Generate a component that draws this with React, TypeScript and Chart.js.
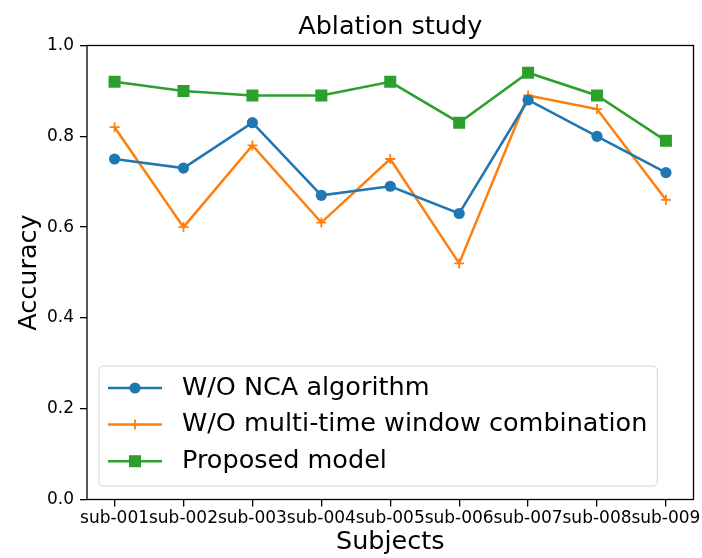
import React, { useEffect, useRef } from "react";
import { Chart, registerables } from "chart.js";

Chart.register(...registerables);

const SUBJECTS = ["sub-001", "sub-002", "sub-003", "sub-004", "sub-005", "sub-006", "sub-007", "sub-008", "sub-009"];
const NCA = [0.75, 0.73, 0.83, 0.67, 0.69, 0.63, 0.88, 0.8, 0.72];
const MULTI = [0.82, 0.6, 0.78, 0.61, 0.75, 0.52, 0.89, 0.86, 0.66];
const PROPOSED = [0.92, 0.9, 0.89, 0.89, 0.92, 0.83, 0.94, 0.89, 0.79];
const SERIES_LABELS = ["W/O NCA algorithm", "W/O multi-time window combination", "Proposed model"];
const COLORS = ["#1f77b4", "#ff7f0e", "#2ca02c"];
const MARKERS = ["circle", "cross", "rect"];
const Y_TICKS = [0, 0.2, 0.4, 0.6, 0.8, 1.0];
const TITLE = "Ablation study";

const FONT = "'DejaVu Sans', sans-serif";

const framePlugin = {
  id: "frameAndLegend",
  afterDatasetsDraw(chart: any) {
    const ctx = chart.ctx;
    const ca = chart.chartArea;
    ctx.save();
    // frame
    ctx.strokeStyle = "#000";
    ctx.lineWidth = 1.3;
    ctx.strokeRect(ca.left, ca.top, ca.right - ca.left, ca.bottom - ca.top);

    // title centred over the plot area
    ctx.font = `25.5px ${FONT}`;
    ctx.fillStyle = "#000";
    ctx.textAlign = "center";
    ctx.textBaseline = "middle";
    ctx.fillText(TITLE, (ca.left + ca.right) / 2, 27.5);

    // legend
    const fs = 25.5;
    ctx.font = `${fs}px ${FONT}`;
    let maxW = 0;
    SERIES_LABELS.forEach((t) => {
      maxW = Math.max(maxW, ctx.measureText(t).width);
    });
    const boxL = ca.left + 12;
    const boxB = ca.bottom - 13.5;
    const rowH = 36.6;
    const lastRow = boxB - 24.8;
    const rows = SERIES_LABELS.map((_, i) => lastRow - (SERIES_LABELS.length - 1 - i) * rowH);
    const boxT = rows[0] - 22;
    const textX = boxL + 83;
    const boxR = textX + maxW + 10;
    const r = 5;
    ctx.beginPath();
    ctx.moveTo(boxL + r, boxT);
    ctx.lineTo(boxR - r, boxT);
    ctx.quadraticCurveTo(boxR, boxT, boxR, boxT + r);
    ctx.lineTo(boxR, boxB - r);
    ctx.quadraticCurveTo(boxR, boxB, boxR - r, boxB);
    ctx.lineTo(boxL + r, boxB);
    ctx.quadraticCurveTo(boxL, boxB, boxL, boxB - r);
    ctx.lineTo(boxL, boxT + r);
    ctx.quadraticCurveTo(boxL, boxT, boxL + r, boxT);
    ctx.closePath();
    ctx.fillStyle = "rgba(255,255,255,0.8)";
    ctx.fill();
    ctx.strokeStyle = "#d6d6d6";
    ctx.lineWidth = 1;
    ctx.stroke();

    SERIES_LABELS.forEach((t, i) => {
      const y = rows[i];
      const hx0 = boxL + 9;
      const hx1 = boxL + 63;
      const mx = (hx0 + hx1) / 2;
      ctx.strokeStyle = COLORS[i];
      ctx.fillStyle = COLORS[i];
      ctx.lineWidth = 2.5;
      ctx.beginPath();
      ctx.moveTo(hx0, y);
      ctx.lineTo(hx1, y);
      ctx.stroke();
      if (MARKERS[i] === "circle") {
        ctx.beginPath();
        ctx.arc(mx, y, 5.6, 0, Math.PI * 2);
        ctx.fill();
      } else if (MARKERS[i] === "rect") {
        ctx.fillRect(mx - 6, y - 6, 12, 12);
      } else {
        ctx.lineWidth = 1.8;
        ctx.beginPath();
        ctx.moveTo(mx, y - 5);
        ctx.lineTo(mx, y + 5);
        ctx.moveTo(mx - 5, y);
        ctx.lineTo(mx + 5, y);
        ctx.stroke();
      }
      ctx.fillStyle = "#000";
      ctx.textAlign = "left";
      ctx.textBaseline = "middle";
      ctx.fillText(t, textX, y);
    });
    ctx.restore();
  },
};

export default function App() {
  const ref = useRef<HTMLCanvasElement | null>(null);

  useEffect(() => {
    if (!ref.current) return;
    const series = [NCA, MULTI, PROPOSED];
    const chart = new Chart(ref.current, {
      type: "line",
      data: {
        datasets: series.map((vals, i) => ({
          label: SERIES_LABELS[i],
          data: vals.map((v, j) => ({ x: j, y: v })),
          borderColor: COLORS[i],
          backgroundColor: COLORS[i],
          borderWidth: 2.5,
          pointStyle: MARKERS[i] as any,
          pointRadius: MARKERS[i] === "rect" ? 8.5 : MARKERS[i] === "cross" ? 5 : 5.6,
          pointBorderWidth: MARKERS[i] === "cross" ? 1.8 : 0,
          pointBackgroundColor: COLORS[i],
          pointBorderColor: COLORS[i],
          tension: 0,
          fill: false,
        })),
      },
      options: {
        responsive: false,
        animation: false,
        layout: { padding: { left: 0, right: 8, top: 45.5, bottom: 0 } },
        plugins: {
          legend: { display: false },
          tooltip: { enabled: false },
          title: { display: false },
        },
        scales: {
          x: {
            type: "linear",
            min: -0.4,
            max: SUBJECTS.length - 1 + 0.4,
            afterBuildTicks: (scale: any) => {
              scale.ticks = SUBJECTS.map((_, i) => ({ value: i }));
            },
            afterFit: (scale: any) => {
              scale.height = 58.5;
              scale.paddingLeft = 0;
              scale.paddingRight = 0;
            },
            ticks: {
              color: "#000",
              font: { family: FONT, size: 17 },
              padding: 2,
              maxRotation: 0,
              autoSkip: false,
              callback: (v: any) => SUBJECTS[Math.round(Number(v))] ?? "",
            },
            grid: {
              drawOnChartArea: false,
              drawTicks: true,
              tickLength: 7,
              color: "#000",
              lineWidth: 1.3,
            },
            border: { display: false },
            title: {
              display: true,
              text: "Subjects",
              color: "#000",
              font: { family: FONT, size: 25.5 },
              padding: { top: 0, bottom: 0 },
            },
          },
          y: {
            type: "linear",
            min: 0,
            max: 1,
            afterBuildTicks: (scale: any) => {
              scale.ticks = Y_TICKS.map((v) => ({ value: v }));
            },
            afterFit: (scale: any) => {
              scale.width = 87;
              scale.paddingTop = 0;
              scale.paddingBottom = 0;
            },
            ticks: {
              color: "#000",
              font: { family: FONT, size: 17 },
              padding: 6,
              callback: (v: any) => Number(v).toFixed(1),
            },
            grid: {
              drawOnChartArea: false,
              drawTicks: true,
              tickLength: 7,
              color: "#000",
              lineWidth: 1.3,
            },
            border: { display: false },
            title: {
              display: true,
              text: "Accuracy",
              color: "#000",
              font: { family: FONT, size: 25.5 },
              padding: { top: 14, bottom: 0 },
            },
          },
        },
      },
      plugins: [framePlugin],
    });
    return () => chart.destroy();
  }, []);

  return (
    <div style={{ position: "absolute", left: 0, top: 0, width: 702, height: 558, background: "#fff" }}>
      <canvas ref={ref} width={702} height={558} style={{ display: "block", width: 702, height: 558 }} />
    </div>
  );
}
